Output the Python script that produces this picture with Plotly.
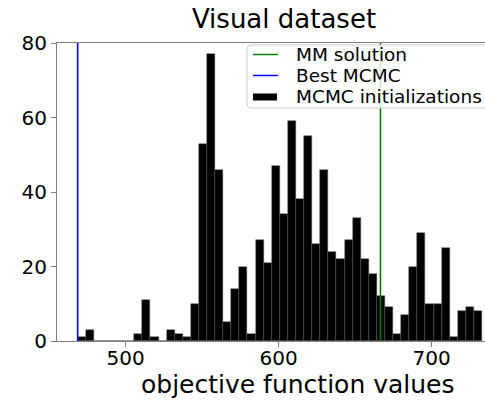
import numpy as np
import plotly.graph_objects as go

# ---- data ----
counts = [1, 3, 0, 0, 0, 0, 0, 2, 11, 1,
          0, 3, 2, 1, 10, 53, 77, 46, 5, 14,
          20, 2, 27, 21, 47, 34, 59, 38, 55, 26,
          46, 24, 22, 27, 33, 22, 18, 12, 9, 2,
          7, 20, 29, 10, 10, 25, 1, 8, 9, 8]
hist_min = 468.6
hist_max = 732.9
best_mcmc = 468.6
mm_solution = 666.5
x_ticks = [500, 600, 700]
y_ticks = [0, 20, 40, 60, 80]
legend_labels = ["MM solution", "Best MCMC", "MCMC initializations"]
legend_colors = ["#008000", "#0000ff", "black"]

n_bins = len(counts)
edges = np.linspace(hist_min, hist_max, n_bins + 1)
centers = (edges[:-1] + edges[1:]) / 2
bin_w = edges[1] - edges[0]

FONT = "DejaVu Sans"

fig = go.Figure()
fig.add_trace(go.Bar(
    x=centers, y=counts, width=bin_w,
    marker=dict(color="black", line=dict(color="#555555", width=0.5)),
    name=legend_labels[2],
))
fig.add_trace(go.Scatter(
    x=[best_mcmc, best_mcmc], y=[0, 80], mode="lines",
    line=dict(color=legend_colors[1], width=1.6), name=legend_labels[1],
))
fig.add_trace(go.Scatter(
    x=[mm_solution, mm_solution], y=[0, 80], mode="lines",
    line=dict(color=legend_colors[0], width=1.6), name=legend_labels[0],
))

W, H = 485, 404
L, R, T, B = 57, 0, 43, 63
plot_w = W - L - R
plot_h = H - T - B
px_per_unit = 1.53
x0 = 455.1
x1 = x0 + plot_w / px_per_unit


def px(xp):
    return (xp - L) / plot_w


def py(yp):
    return (H - B - yp) / plot_h


fig.update_layout(
    width=W, height=H,
    margin=dict(l=L, r=R, t=T, b=B, pad=0, autoexpand=False),
    paper_bgcolor="white", plot_bgcolor="white",
    font=dict(family=FONT, color="black"),
    bargap=0,
    showlegend=False,
    title=dict(
        text="Visual dataset", xref="container", yref="container",
        x=284 / W, y=1 - 18.5 / H, xanchor="center", yanchor="middle",
        font=dict(family=FONT, size=26, color="black"),
    ),
)
fig.update_xaxes(
    range=[x0, x1], tickvals=x_ticks, ticktext=[str(v) for v in x_ticks],
    showgrid=False, zeroline=False,
    showline=True, linecolor="#808080", linewidth=1, mirror=True,
    ticks="outside", ticklen=5, tickcolor="#808080",
    ticklabelstandoff=-6,
    tickfont=dict(family=FONT, size=20, color="black"),
)
fig.update_yaxes(
    range=[0, 80], tickvals=y_ticks, ticktext=[str(v) for v in y_ticks],
    showgrid=False, zeroline=False,
    showline=True, linecolor="#808080", linewidth=1, mirror=False,
    ticks="outside", ticklen=5, tickcolor="#808080",
    tickfont=dict(family=FONT, size=20, color="black"),
)
fig.add_annotation(
    text="objective function values", xref="paper", yref="paper",
    x=px(298), y=py(384),
    xanchor="center", yanchor="middle", showarrow=False,
    font=dict(family=FONT, size=25, color="black"),
)

# ---- legend box (drawn manually to match the reference layout) ----
bx0, bx1, by0, by1, r = 247, 520, 45, 108, 4
path = (f"M {px(bx0 + r)} {py(by0)} L {px(bx1)} {py(by0)} L {px(bx1)} {py(by1)} "
        f"L {px(bx0 + r)} {py(by1)} Q {px(bx0)} {py(by1)} {px(bx0)} {py(by1 - r)} "
        f"L {px(bx0)} {py(by0 + r)} Q {px(bx0)} {py(by0)} {px(bx0 + r)} {py(by0)} Z")
fig.add_shape(type="path", path=path, xref="paper", yref="paper",
              fillcolor="rgba(255,255,255,0.8)", line=dict(color="#cccccc", width=1),
              layer="above")
row_y = [54.5, 75.5, 97]
for i, (lab, col) in enumerate(zip(legend_labels, legend_colors)):
    if i < 2:
        fig.add_shape(type="line", xref="paper", yref="paper",
                      x0=px(253), x1=px(278), y0=py(row_y[i]), y1=py(row_y[i]),
                      line=dict(color=col, width=1.5), layer="above")
    else:
        fig.add_shape(type="rect", xref="paper", yref="paper",
                      x0=px(253), x1=px(277), y0=py(row_y[i] - 3.5), y1=py(row_y[i] + 3.5),
                      fillcolor=col, line=dict(width=0), layer="above")
    fig.add_annotation(
        text=lab, xref="paper", yref="paper", x=px(294), y=py(row_y[i]),
        xanchor="left", yanchor="middle", showarrow=False,
        font=dict(family=FONT, size=18.5, color="black"),
    )

fig.write_html("out.html")
